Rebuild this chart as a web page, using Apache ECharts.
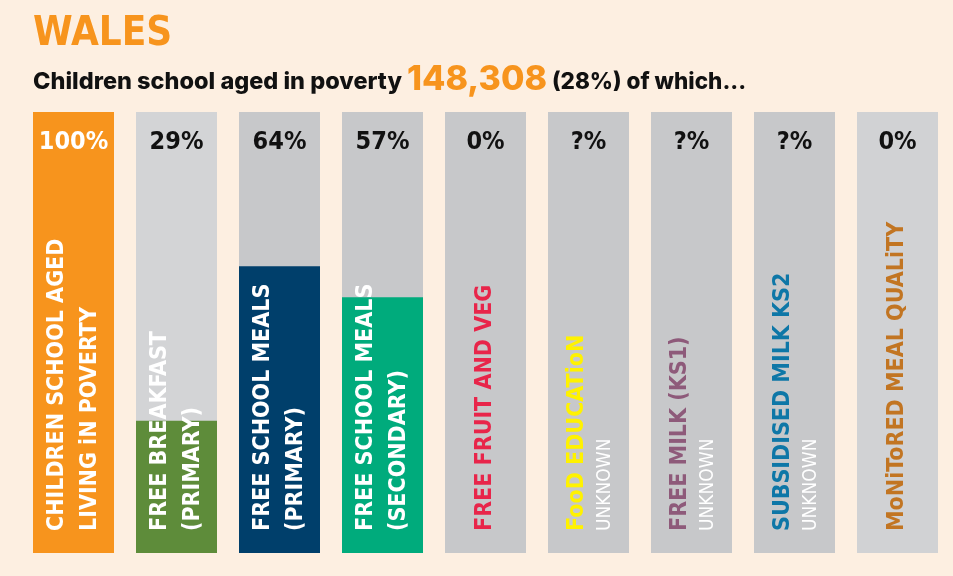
<!DOCTYPE html>
<html>
<head>
<meta charset="utf-8">
<script src="https://cdn.jsdelivr.net/npm/echarts@6/dist/echarts.min.js"></script>
<style>
html,body{margin:0;padding:0;background:#fdefe1;}
#chart{width:953px;height:576px;}
</style>
</head>
<body>
<div id="chart"></div>
<script>
// ---- data ----
const categories = [
  'Children school aged living in poverty',
  'Free breakfast (primary)',
  'Free school meals (primary)',
  'Free school meals (secondary)',
  'Free fruit and veg',
  'Food education',
  'Free milk (KS1)',
  'Subsidised milk KS2',
  'Monitored meal quality'
];
// bar heights as drawn in the picture (unknown = no fill)
const values = [100, 30, 65, 58, 0, null, null, null, 0];
const valueLabels = ['100%', '29%', '64%', '57%', '0%', '?%', '?%', '?%', '0%'];
const labelLine1 = ['CHILDREN SCHOOL AGED', 'FREE BREAKFAST', 'FREE SCHOOL MEALS', 'FREE SCHOOL MEALS', 'FREE FRUIT AND VEG', 'FooD EDUCATioN', 'FREE MILK (KS1)', 'SUBSIDISED MILK KS2', 'MoNiToRED MEAL QUALiTY'];
const labelLine2 = ['LIVING iN POVERTY', '(PRIMARY)', '(PRIMARY)', '(SECONDARY)', '', 'UNKNOWN', 'UNKNOWN', 'UNKNOWN', ''];
const fullScale = categories.map(() => 100);

// ---- styles ----
const barColors = ['#f7941d', '#5e8c3a', '#003f6b', '#00ab7c', '#c8c9cb', '#c8c9cb', '#c8c9cb', '#c8c9cb', '#c8c9cb'];
const bgColors = ['#c8c9cb', '#d3d4d6', '#c7c8ca', '#c7c8ca', '#c7c8ca', '#c7c8ca', '#c7c8ca', '#c7c8ca', '#d1d2d4'];
const line1Style = ['w', 'w', 'w', 'w', 'r', 'y', 'p', 'b', 'o'];
const line2Style = ['w', 'w', 'w', 'w', '', 'u', 'u', 'u', ''];
const pctColors = ['#ffffff', '#111', '#111', '#111', '#111', '#111', '#111', '#111', '#111'];

const nameFont = 'DejaVu Sans Condensed';
const mk = (c) => ({ color: c, fontFamily: nameFont, fontSize: 23, fontWeight: 'bold', lineHeight: 33 });

const chart = echarts.init(document.getElementById('chart'), null, { renderer: 'canvas' });
chart.setOption({
  backgroundColor: '#fdefe1',
  animation: false,
  title: [
    {
      text: 'WALES', left: 28, top: 10,
      textStyle: { color: '#f7941d', fontFamily: nameFont, fontSize: 40, fontWeight: 'bold' }
    },
    {
      text: '{a|Children school aged in poverty }{b|148,308}{c| (28%) of which...}',
      left: 28, top: 52,
      textStyle: {
        rich: {
          a: { fontFamily: 'Inter', fontWeight: 800, fontSize: 23.5, color: '#111', verticalAlign: 'bottom', lineHeight: 40, padding: [0, 0, 3, 0] },
          b: { fontFamily: 'Inter', fontWeight: 800, fontSize: 34, color: '#f7941d', verticalAlign: 'bottom', lineHeight: 40 },
          c: { fontFamily: 'Inter', fontWeight: 800, fontSize: 22.5, color: '#111', verticalAlign: 'bottom', lineHeight: 40, padding: [0, 0, 3, 0] }
        }
      }
    }
  ],
  grid: { left: 22, right: 4, top: 112, bottom: 23 },
  xAxis: { type: 'category', data: categories, show: false },
  yAxis: { type: 'value', min: 0, max: 100, show: false },
  series: [
    {
      type: 'bar', z: 1, barWidth: 81, barGap: '-100%',
      data: fullScale.map((v, i) => ({ value: v, itemStyle: { color: bgColors[i] } })),
      silent: true
    },
    {
      type: 'bar', z: 2, barWidth: 81, barGap: '-100%',
      data: values.map((v, i) => ({ value: v, itemStyle: { color: barColors[i] } })),
      silent: true
    },
    {
      type: 'bar', z: 3, barWidth: 81, barGap: '-100%',
      itemStyle: { color: 'rgba(0,0,0,0)' },
      data: fullScale.map((v, i) => ({
        value: v,
        label: {
          show: true, position: 'insideBottom', distance: 19, rotate: 90,
          align: 'left', verticalAlign: 'middle', offset: [3, 0],
          formatter: () => {
            let s = '{' + line1Style[i] + '|' + labelLine1[i] + '}';
            if (labelLine2[i]) s += '\n{' + line2Style[i] + '|' + labelLine2[i] + '}';
            return s;
          },
          rich: {
            w: mk('#ffffff'), r: mk('#e8254a'), y: mk('#fff200'), p: mk('#8e5a7a'),
            b: mk('#0e77a7'), o: mk('#c27522'),
            u: { color: '#ffffff', fontFamily: nameFont, fontSize: 19, lineHeight: 22 }
          }
        }
      })),
      silent: true
    },
    {
      type: 'bar', z: 4, barWidth: 81, barGap: '-100%',
      itemStyle: { color: 'rgba(0,0,0,0)' },
      data: fullScale.map((v, i) => ({
        value: v,
        label: {
          show: true, position: 'insideTop', distance: 18,
          formatter: valueLabels[i],
          color: pctColors[i], fontFamily: nameFont, fontSize: 25, fontWeight: 'bold'
        }
      })),
      silent: true
    }
  ]
});
</script>
</body>
</html>
